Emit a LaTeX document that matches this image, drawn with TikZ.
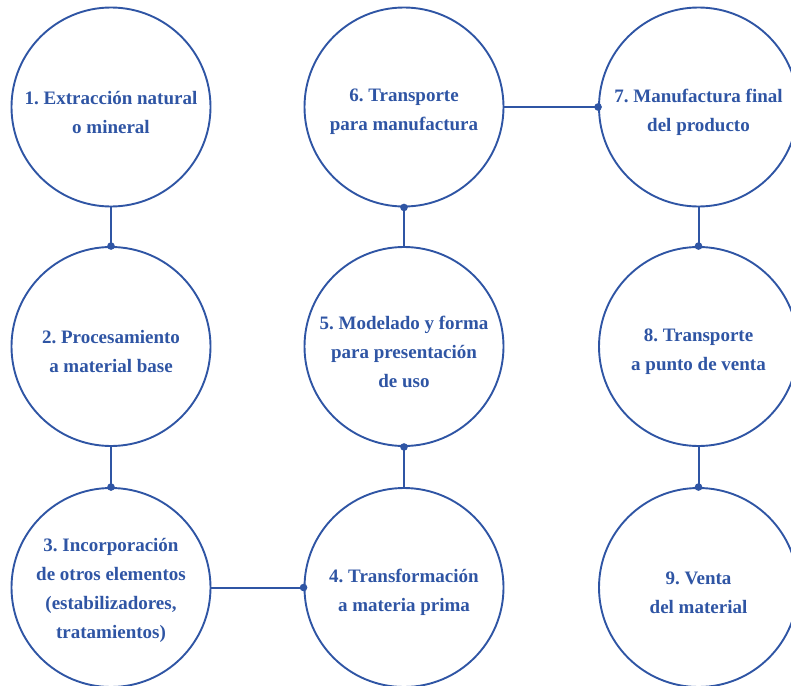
\documentclass[tikz,border=0pt]{standalone}
\usepackage{fontspec}
\setmainfont{Liberation Serif}
\definecolor{cblue}{HTML}{2F55A4}
\begin{document}
\begin{tikzpicture}[x=1pt,y=-1pt,
  stage/.style={circle, draw=cblue, line width=1.9pt, minimum size=199pt, inner sep=0pt},
  lbl/.style={align=center, text=cblue, inner sep=0pt, yshift=-5pt,
    font=\frenchspacing\fontsize{19}{29}\selectfont\bfseries},
  link/.style={draw=cblue, line width=2pt},
  joint/.style={fill=cblue}]
\useasboundingbox (0,0) rectangle (791,685);
\clip (0,0) rectangle (791,685);
\node[stage] (n1) at (111,107) {};
\node[stage] (n2) at (111,346.5) {};
\node[stage] (n3) at (111,587.5) {};
\node[stage] (n6) at (404,107) {};
\node[stage] (n5) at (404,346.5) {};
\node[stage] (n4) at (404,587.5) {};
\node[stage] (n7) at (698.5,107) {};
\node[stage] (n8) at (698.5,346.5) {};
\node[stage] (n9) at (698.5,587.5) {};
\node[lbl] (t1) at (n1.center) {1. Extracción natural\\o mineral};
\node[lbl] (t2) at (n2.center) {2. Procesamiento\\a material base};
\node[lbl,yshift=2pt] (t3) at (n3.center) {3. Incorporación\\de otros elementos\\(estabilizadores,\\tratamientos)};
\node[lbl] (t6) at (n6.center) {6. Transporte\\para manufactura};
\node[lbl] (t5) at (n5.center) {5. Modelado y forma\\para presentación\\de uso};
\node[lbl] (t4) at (n4.center) {4. Transformación\\a materia prima};
\node[lbl] (t7) at (n7.center) {7. Manufactura final\\del producto};
\node[lbl] (t8) at (n8.center) {8. Transporte\\a punto de venta};
\node[lbl] (t9) at (n9.center) {9. Venta\\del material};
\draw[link] (n1.south) -- (n2.north);
\draw[link] (n2.south) -- (n3.north);
\draw[link] (n3.east) -- (n4.west);
\draw[link] (n4.north) -- (n5.south);
\draw[link] (n5.north) -- (n6.south);
\draw[link] (n6.east) -- (n7.west);
\draw[link] (n7.south) -- (n8.north);
\draw[link] (n8.south) -- (n9.north);
\fill[joint] (n2.north) circle (3.8pt);
\fill[joint] (n3.north) circle (3.8pt);
\fill[joint] (n4.west) circle (3.8pt);
\fill[joint] (n5.south) circle (3.8pt);
\fill[joint] (n6.south) circle (3.8pt);
\fill[joint] (n7.west) circle (3.8pt);
\fill[joint] (n8.north) circle (3.8pt);
\fill[joint] (n9.north) circle (3.8pt);
\end{tikzpicture}
\end{document}
